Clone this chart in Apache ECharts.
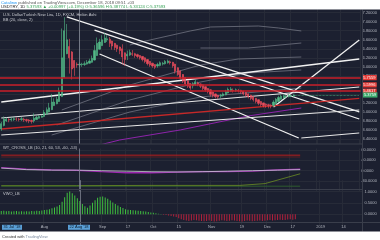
<!DOCTYPE html>
<html><head><meta charset="utf-8">
<script src="https://cdn.jsdelivr.net/npm/echarts@6/dist/echarts.min.js"></script>
<style>html,body{margin:0;padding:0;background:#fff}#c{width:380px;height:240px}</style>
</head><body><div id="c"></div>
<script>
// ---- categories (weekday bars) ----
const dates = [];
for (let d = new Date(Date.UTC(2018,6,9)); dates.length < 143; d.setUTCDate(d.getUTCDate()+1)) {
  const wd = d.getUTCDay(); if (wd === 0 || wd === 6) continue;
  dates.push(d.toISOString().slice(0,10));
}
const timeLabels = {'2018-08-01':'Aug','2018-09-03':'Sep','2018-09-17':'17','2018-10-01':'Oct','2018-10-15':'15',
  '2018-11-01':'Nov','2018-11-19':'19','2018-12-03':'Dec','2018-12-17':'17','2019-01-01':'2019','2019-01-14':'14'};

// ---- Heikin Ashi candles [open, close, low, high] ----
const ohlc = [
[4.62,4.74,4.58,4.78],[4.70,4.84,4.68,4.90],[4.80,4.84,4.78,4.88],[4.83,4.82,4.77,4.86],[4.82,4.84,4.79,4.88],
[4.83,4.85,4.80,4.89],[4.84,4.84,4.80,4.88],[4.84,4.83,4.79,4.87],[4.83,4.85,4.80,4.89],[4.84,4.82,4.78,4.87],
[4.83,4.81,4.77,4.85],[4.82,4.80,4.75,4.84],[4.81,4.79,4.74,4.83],[4.80,4.86,4.76,4.97],[4.83,4.88,4.82,4.92],
[4.86,4.90,4.85,4.93],[4.88,4.91,4.87,4.94],[4.90,4.99,4.89,5.04],[4.95,5.05,4.94,5.10],[5.00,5.09,4.99,5.20],
[5.05,5.22,5.04,5.40],[5.14,5.22,5.13,5.30],[5.18,5.28,5.17,5.34],[5.23,5.45,5.22,5.54],[5.34,6.20,5.33,6.85],
[5.77,6.80,5.76,7.10],[6.29,6.60,6.28,6.95],[6.45,6.20,5.85,6.62],[6.33,5.95,5.72,6.35],[6.14,5.98,5.80,6.15],
[6.06,6.04,5.98,6.10],[6.04,6.06,5.99,6.10],[6.05,6.06,6.00,6.09],[6.05,6.07,6.02,6.12],[6.06,6.10,6.05,6.15],
[6.08,6.13,6.07,6.18],[6.10,6.19,6.09,6.25],[6.15,6.36,6.14,6.48],[6.25,6.52,6.24,6.65],[6.39,6.55,6.38,6.62],
[6.47,6.60,6.46,6.70],[6.54,6.64,6.53,6.75],[6.60,6.62,6.55,6.70],[6.61,6.52,6.44,6.66],[6.57,6.46,6.38,6.58],
[6.52,6.43,6.37,6.53],[6.48,6.40,6.33,6.49],[6.44,6.36,6.28,6.45],[6.40,6.22,6.05,6.50],[6.31,6.16,6.02,6.32],
[6.24,6.28,6.15,6.36],[6.26,6.32,6.24,6.38],[6.29,6.28,6.24,6.37],[6.29,6.25,6.20,6.31],[6.27,6.23,6.19,6.29],
[6.25,6.20,6.16,6.26],[6.23,6.16,6.12,6.24],[6.20,6.12,6.08,6.21],[6.16,6.07,6.03,6.17],[6.12,6.04,6.00,6.13],
[6.08,6.02,5.98,6.09],[6.05,5.99,5.95,6.06],[6.02,6.05,5.98,6.09],[6.03,6.09,6.01,6.12],[6.06,6.08,6.03,6.11],
[6.07,6.12,6.05,6.15],[6.09,6.13,6.07,6.16],[6.11,6.09,6.05,6.14],[6.10,6.02,5.98,6.11],[6.06,5.90,5.85,6.07],
[5.98,5.83,5.80,5.99],[5.91,5.75,5.72,5.92],[5.83,5.68,5.64,5.84],[5.76,5.62,5.58,5.77],[5.69,5.57,5.53,5.70],
[5.63,5.53,5.49,5.64],[5.58,5.62,5.52,5.66],[5.60,5.67,5.58,5.71],[5.64,5.61,5.57,5.67],[5.62,5.57,5.53,5.63],
[5.60,5.52,5.48,5.61],[5.56,5.49,5.45,5.57],[5.52,5.45,5.41,5.53],[5.49,5.39,5.34,5.50],[5.44,5.36,5.32,5.45],
[5.40,5.34,5.30,5.41],[5.37,5.33,5.29,5.38],[5.35,5.37,5.31,5.40],[5.36,5.40,5.34,5.43],[5.38,5.45,5.37,5.49],
[5.42,5.50,5.41,5.54],[5.46,5.51,5.44,5.55],[5.48,5.47,5.43,5.52],[5.48,5.49,5.44,5.52],[5.48,5.47,5.43,5.51],
[5.48,5.44,5.40,5.49],[5.46,5.40,5.37,5.47],[5.43,5.37,5.33,5.44],[5.40,5.34,5.30,5.41],[5.37,5.30,5.26,5.38],
[5.34,5.27,5.23,5.35],[5.30,5.23,5.19,5.31],[5.27,5.19,5.15,5.28],[5.23,5.16,5.12,5.24],[5.20,5.14,5.10,5.21],
[5.17,5.15,5.09,5.19],[5.16,5.14,5.08,5.18],[5.15,5.13,5.08,5.17],[5.14,5.22,5.12,5.26],[5.18,5.28,5.17,5.31],
[5.23,5.32,5.22,5.36],[5.28,5.35,5.27,5.38],[5.31,5.36,5.29,5.39],[5.34,5.35,5.30,5.38],[5.34,5.37,5.32,5.39],
[5.35,5.36,5.33,5.38],[5.36,5.376,5.33,5.39]
];
const lastClose = 5.37593;

// ---- drawn trend lines [barIndex, price] ----
const trendW1 = [[26,7.105],[142,5.00]];
const trendW2 = [[37,6.816],[142,4.843]];
const trendW3 = [[39,6.284],[118,4.422]];
const trendW4 = [[108,5.109],[142,6.595]];
const trendW5 = [[0,5.22],[142,6.173]];
const trendW6 = [[0,4.865],[142,5.553]];
const trendW8 = [[0,4.488],[142,5.043]];
const trendW9 = [[119,4.422],[142,4.533]];
const trendRed = [[0,4.621],[142,5.2985]];
const hLevels = [5.7559, 5.5996, 5.4617];

// ---- moving-average style curves [barIndex, price] ----
const grayA = [[51,6.484],[59,6.595],[75,6.795],[83,6.883],[102,6.905],[110,6.861],[119,6.795]];
const grayB = [[79,6.417],[98,6.417],[119,6.528]];
const grayC = [[24,5.043],[51,5.597],[79,6.04],[94,6.173],[119,6.218]];
const grayD = [[22,4.71],[51,5.265],[79,5.663],[98,5.863],[119,5.93]];
const grayE = [[20,4.488],[51,4.998],[79,5.331],[119,5.53]];
const purpleMA = [[39,4.267],[47,4.378],[71,4.6],[98,4.91],[119,5.087]];

// ---- oscillator (WT) ----
const wt1 = [[0,10],[10,4],[20,2],[30,2],[40,0],[50,-2],[60,-4],[70,-5],[80,-4],[90,-2],[100,0],[110,2],[119,4]];
const wt2 = [[0,12],[10,6],[20,3],[30,1],[40,-4],[50,-8],[60,-8],[70,-6],[80,-4],[90,-4],[100,-2],[110,3],[119,6]];
const wtOlive = [[0,-58],[30,-58],[60,-57],[95,-57],[105,-50],[119,-12]];
const obLevel1 = 60, obLevel2 = 53, osLevel1 = -60;

// ---- VWO histogram ----
const vwo = [0.14,0.15,0.13,0.14,0.12,0.13,0.14,0.12,0.13,0.12,0.13,0.12,0.14,0.13,0.15,0.14,0.16,0.18,0.20,0.22,
0.26,0.30,0.34,0.40,0.55,0.75,0.95,1.0,0.92,0.82,0.70,0.58,0.45,0.35,0.28,0.38,0.50,0.62,0.72,0.77,
0.78,0.74,0.68,0.60,0.52,0.45,0.38,0.32,0.27,0.22,0.20,0.18,0.17,0.16,0.15,0.14,0.13,0.12,0.10,0.08,
0.06,0.04,0.02,0.01,-0.02,-0.04,-0.06,-0.08,-0.10,-0.12,
-0.18,-0.22,-0.26,-0.28,-0.30,-0.28,-0.26,-0.27,-0.29,-0.30,-0.31,-0.30,-0.28,-0.30,-0.32,-0.31,-0.29,-0.27,-0.28,-0.30,
-0.29,-0.27,-0.28,-0.30,-0.31,-0.32,-0.30,-0.28,-0.29,-0.31,-0.30,-0.29,-0.28,-0.30,-0.29,-0.27,-0.26,-0.28,-0.27,-0.25,
-0.24,-0.26,-0.25,-0.23,-0.22,-0.24,-0.22];

const BG = '#1c2030', GRID = '#272b38', AX = '#b2b5be', UP = '#53b987', DN = '#eb4d5c';
const FONT = 'Liberation Sans, Arial, sans-serif';
const chart = echarts.init(document.getElementById('c'), null, {renderer:'canvas'});

const gridLeft = -1.5, gridW = 364;
function splitColors(n){ const a=[]; for(let i=0;i<n;i++) a.push(i===0||i===n-1?'rgba(0,0,0,0)':GRID); return a; }
function xAx(gi, showLabel){
  return {type:'category', gridIndex:gi, data:dates, boundaryGap:true,
    axisLine:{show:false}, axisTick:{show:false},
    axisLabel:{show:showLabel, interval:(i,v)=>!!timeLabels[v], formatter:v=>timeLabels[v]||'', fontSize:4, color:AX, margin:1.5, fontFamily:FONT},
    splitLine:{show:!showLabel, interval:(i,v)=>!!timeLabels[v], lineStyle:{color:GRID, width:1}}};
}
const lineS = (data, color, width, opts) => Object.assign({type:'line', xAxisIndex:0, yAxisIndex:0, data, symbol:'none', silent:true,
  lineStyle:{color, width}, z:3}, opts||{});
const mkVert = {silent:true, symbol:'none', label:{show:false}, lineStyle:{color:'#7d8290', width:0.8, type:'solid'}, data:[{xAxis:31}]};

const option = {
  animation:false, backgroundColor:BG,
  grid:[
    {left:gridLeft, width:gridW, top:3.68, height:144.32},
    {left:gridLeft, width:gridW, top:139.67, height:51.67},
    {left:gridLeft, width:gridW, top:180.15, height:45.4},
    {left:gridLeft, width:gridW, top:190, height:33.5}
  ],
  xAxis:[xAx(0,false), xAx(1,false), xAx(2,false), xAx(3,true)],
  yAxis:[
    {type:'value', gridIndex:0, position:'right', min:4.2, max:7.4, interval:0.2,
      axisLine:{show:false}, axisTick:{show:false},
      axisLabel:{fontSize:4, color:AX, margin:2, fontFamily:FONT, formatter:v=>(v<4.35||v>7.25)?'':v.toFixed(5)},
      splitLine:{lineStyle:{color:splitColors(17), width:1}}},
    {type:'value', gridIndex:1, position:'right', min:-80, max:120, interval:40,
      axisLine:{show:false}, axisTick:{show:false},
      axisLabel:{fontSize:4, color:AX, margin:2, fontFamily:FONT, formatter:v=>(v<-60||v>100)?'':v.toFixed(4)},
      splitLine:{lineStyle:{color:splitColors(6), width:1}}},
    {type:'value', gridIndex:2, position:'right', min:-0.5, max:1.5, interval:0.5,
      axisLine:{show:false}, axisTick:{show:false},
      axisLabel:{fontSize:4, color:AX, margin:2, fontFamily:FONT, formatter:v=>(v<-0.25||v>1.25)?'':v.toFixed(4)},
      splitLine:{lineStyle:{color:splitColors(5), width:1}}},
    {type:'value', gridIndex:3, show:false}
  ],
  series:[
    lineS(grayA,'#7c808c',0.7), lineS(grayB,'#7c808c',0.7), lineS(grayC,'#7c808c',0.7),
    lineS(grayD,'#7c808c',0.7), lineS(grayE,'#7c808c',0.7), lineS(purpleMA,'#8e24aa',1),
    {type:'candlestick', xAxisIndex:0, yAxisIndex:0, data:ohlc, barWidth:1.7, silent:true, z:4,
      itemStyle:{color:UP, color0:DN, borderColor:UP, borderColor0:DN, borderWidth:0.6},
      markLine:{silent:true, symbol:'none', z:5,
        data:[
          ...hLevels.map(v=>({yAxis:v, lineStyle:{color:'#c81e28', width:1.5, type:'solid'},
            label:{show:true, position:'end', distance:1.5, formatter:v.toFixed(4), fontSize:4, color:'#fff', backgroundColor:'#e53935', padding:[0.6,1.2], fontFamily:FONT}})),
          [{coord:[dates[116], lastClose], lineStyle:{color:UP, width:0.7, type:'dotted'},
            label:{show:true, position:'end', distance:3.5, formatter:lastClose.toFixed(4), fontSize:4, color:'#fff', backgroundColor:'#3dab6e', padding:[0.6,1.2], fontFamily:FONT}},
           {coord:[dates[142], lastClose]}],
          {xAxis:31, lineStyle:{color:'#8a8f9c', width:0.8, type:'solid'}, label:{show:false}}
        ]}},
    lineS(trendW1,'#f2f2f2',1.3), lineS(trendW2,'#f2f2f2',1.3), lineS(trendW3,'#f2f2f2',1.3),
    lineS(trendW4,'#f2f2f2',1.3), lineS(trendW5,'#f2f2f2',1.3), lineS(trendW6,'#e8e8e8',1.1),
    lineS(trendW8,'#e8e8e8',1.1), lineS(trendW9,'#e8e8e8',1.0),
    lineS(trendRed,'#c62828',1.3, {markLine:{silent:true, symbol:'none',
      data:[[{coord:[dates[141],5.2985], lineStyle:{opacity:0}, label:{show:true, position:'end', distance:3.5, formatter:'5.2985', fontSize:4, color:'#fff', backgroundColor:'#e53935', padding:[0.6,1.2], fontFamily:FONT}},{coord:[dates[142],5.2985]}]]}}),
    // oscillator
    {type:'line', xAxisIndex:1, yAxisIndex:1, symbol:'none', silent:true, data:[[0,obLevel1],[119,obLevel1]], lineStyle:{color:'#b71c1c', width:1}},
    {type:'line', xAxisIndex:1, yAxisIndex:1, symbol:'none', silent:true, data:[[0,obLevel2],[119,obLevel2]], lineStyle:{color:'#5e1f22', width:1}},
    {type:'line', xAxisIndex:1, yAxisIndex:1, symbol:'none', silent:true, data:[[0,osLevel1],[119,osLevel1]], lineStyle:{color:'#2f5d2f', width:1}},
    {type:'line', xAxisIndex:1, yAxisIndex:1, symbol:'none', silent:true, data:wtOlive, lineStyle:{color:'#6b8e23', width:0.8}},
    {type:'line', xAxisIndex:1, yAxisIndex:1, symbol:'none', silent:true, data:wt2, lineStyle:{color:'#9c27b0', width:1.3}},
    {type:'line', xAxisIndex:1, yAxisIndex:1, symbol:'none', silent:true, data:wt1, lineStyle:{color:'#c9ccd4', width:0.8},
      markLine:mkVert},
    // VWO
    {type:'bar', xAxisIndex:2, yAxisIndex:2, data:vwo.map(v=>({value:v, itemStyle:{color: v>=0?'#3fbf3f':'#b3203c'}})), barWidth:0.8, silent:true,
      markLine:mkVert},
    {type:'line', xAxisIndex:3, yAxisIndex:3, data:[], symbol:'none'}
  ],
  graphic:[
    {type:'rect', shape:{x:0,y:144,width:362.5,height:4.5}, style:{fill:BG}, z:50},
    {type:'line', shape:{x1:0,y1:144,x2:362.5,y2:144}, style:{stroke:'#3a3e4b', lineWidth:1}, z:51},
    {type:'line', shape:{x1:0,y1:189.5,x2:362.5,y2:189.5}, style:{stroke:'#3a3e4b', lineWidth:1}, z:51},
    {type:'line', shape:{x1:0,y1:222.5,x2:380,y2:222.5}, style:{stroke:'#3a3e4b', lineWidth:1}, z:51},
    {type:'line', shape:{x1:362.5,y1:9.5,x2:362.5,y2:231.5}, style:{stroke:'#3a3e4b', lineWidth:1}, z:51},
    {type:'rect', shape:{x:0,y:0,width:380,height:9.5}, style:{fill:'#fff'}, z:100},
    {type:'rect', shape:{x:0,y:231.5,width:380,height:8.5}, style:{fill:'#fff'}, z:100},
    {type:'text', x:1, y:0.4, z:101, style:{text:'{b|Catalinw} published on TradingView.com, December 18, 2018 09:51 +03', fontSize:4.2, fill:'#555', fontFamily:FONT,
      rich:{b:{fill:'#2196f3', fontSize:4.2, fontFamily:FONT}}}},
    {type:'text', x:1, y:4.6, z:101, style:{text:'USDTRY, 1D {g|5.37593 ▲ +0.00997 (+0.19%) O:5.36596 H:5.38774 L:5.33124 C:5.37593}', fontSize:4.2, fill:'#222', fontFamily:FONT,
      rich:{g:{fill:'#2e9e4f', fontSize:4.2, fontFamily:FONT}}}},
    {type:'text', x:3, y:12.5, z:60, style:{text:'U.S. Dollar/Turkish New Lira, 1D, FXCM, Heikin Ashi', fontSize:4, fill:'#c8cad0', fontFamily:FONT}},
    {type:'text', x:3, y:17.5, z:60, style:{text:'BB (20, close, 2)', fontSize:4, fill:'#c8cad0', fontFamily:FONT}},
    {type:'text', x:3, y:145.5, z:60, style:{text:'WT_CROSS_LB (10, 21, 60, 53, -60, -53)', fontSize:4, fill:'#c8cad0', fontFamily:FONT}},
    {type:'text', x:3, y:191.5, z:60, style:{text:'VWO_LB', fontSize:4, fill:'#c8cad0', fontFamily:FONT}},
    {type:'text', x:2, y:224.8, z:60, style:{text:"31 Jul '18", fontSize:4, fill:'#0d1b2a', backgroundColor:'#5a9fd6', padding:[0.5,1.5], fontFamily:FONT}},
    {type:'text', x:68, y:224.8, z:60, style:{text:"22 Aug '18", fontSize:4, fill:'#0d1b2a', backgroundColor:'#5a9fd6', padding:[0.5,1.5], fontFamily:FONT}},
    {type:'text', x:2, y:235, z:101, style:{text:'Created with {t|TradingView}', fontSize:4, fill:'#333', fontFamily:FONT,
      rich:{t:{fill:'#7a8aa0', fontSize:4, fontFamily:FONT}}}}
  ]
};
chart.setOption(option);
</script></body></html>
